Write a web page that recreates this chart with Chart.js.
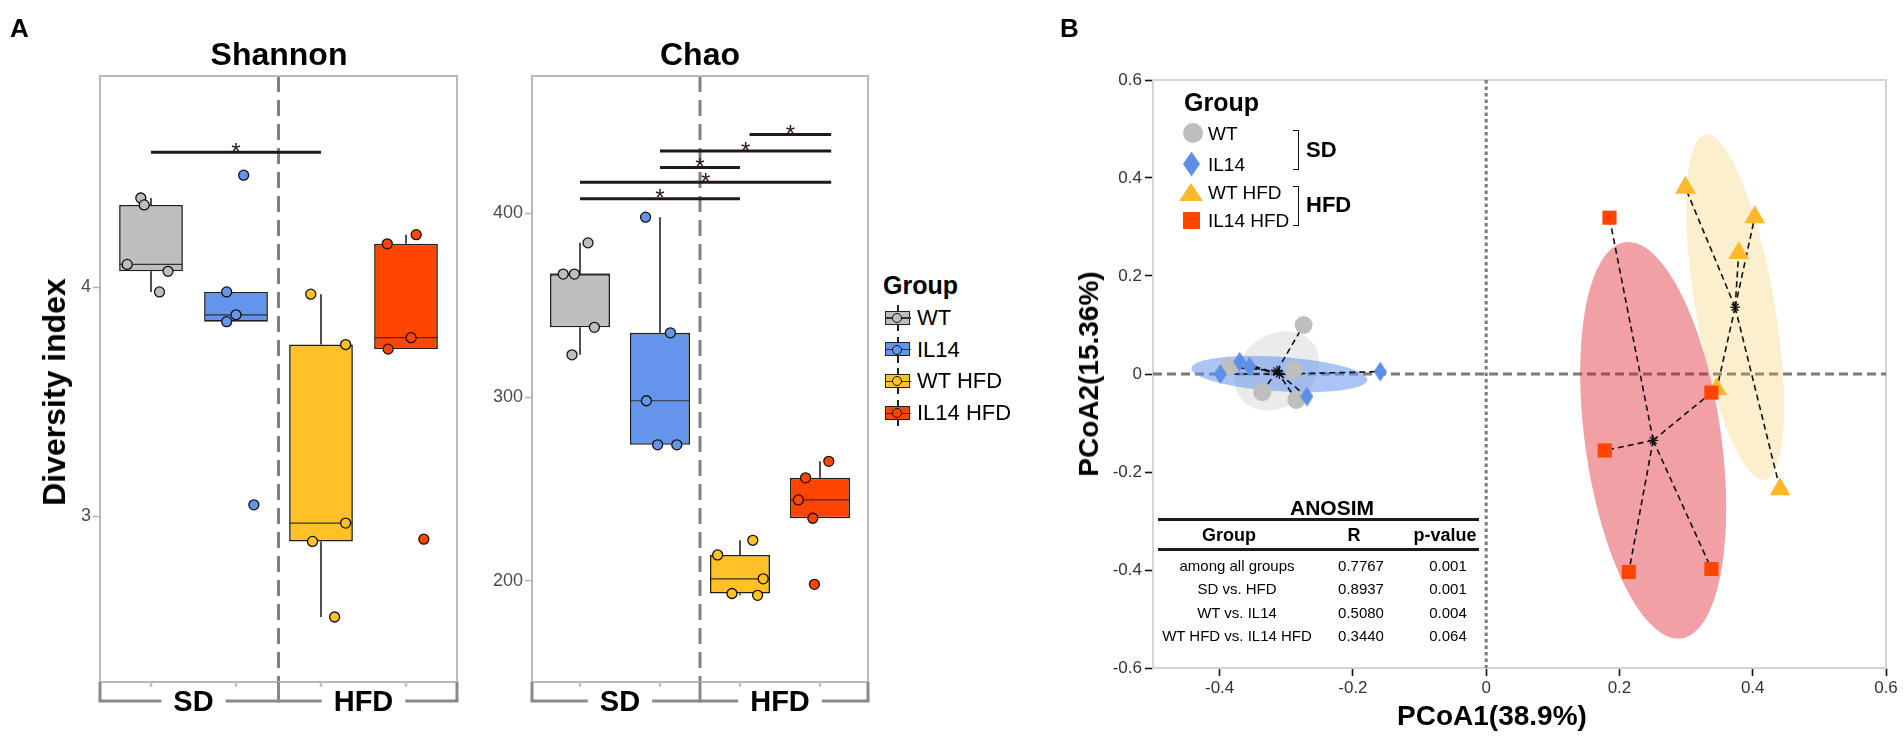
<!DOCTYPE html>
<html>
<head>
<meta charset="utf-8">
<title>Alpha diversity and PCoA</title>
<script src="https://cdn.jsdelivr.net/npm/chart.js@4.4.1/dist/chart.umd.min.js"></script>
<style>
  html, body { margin:0; padding:0; background:#fff; }
  body { position:relative; width:1904px; height:737px; overflow:hidden; font-family:"Liberation Sans", Arial, Helvetica, sans-serif; }
  canvas { position:absolute; top:0; }
  .lbl { position:absolute; white-space:nowrap; line-height:1; }
  .shape { position:absolute; }
</style>
</head>
<body>
<canvas id="shannon" width="470" height="737" style="left:0px;width:470px;height:737px"></canvas>
<canvas id="chao" width="410" height="737" style="left:470px;width:410px;height:737px"></canvas>
<canvas id="pcoa" width="904" height="737" style="left:1000px;width:904px;height:737px"></canvas>
<script>
// ================= DATA =================
const groups = ['WT', 'IL14', 'WT HFD', 'IL14 HFD'];
const dietGroups = ['SD', 'HFD'];
const groupColors = ['#BEBEBE', '#6495ED', '#FFC125', '#FF4500'];

// Shannon index per mouse
const shannonWT      = [4.39, 4.36, 4.10, 4.07, 3.98];
const shannonIL14    = [4.49, 3.98, 3.88, 3.85, 3.05];
const shannonWTHFD   = [3.97, 3.75, 2.97, 2.89, 2.56];
const shannonIL14HFD = [4.23, 4.19, 3.78, 3.73, 2.90];
const shannonJitter  = [[-0.12,-0.08,-0.28,0.20,0.10],[0.09,-0.11,0.00,-0.11,0.21],[-0.12,0.29,0.29,-0.10,0.16],[0.12,-0.22,0.06,-0.21,0.21]];
const shannonTicks = [3, 4];
const shannonSig = [[1, 3, 4.59]];

// Chao index per mouse
const chaoWT      = [384, 367, 367, 338, 323];
const chaoIL14    = [398, 335, 298, 274, 274];
const chaoWTHFD   = [222, 214, 201, 193, 192];
const chaoIL14HFD = [265, 256, 244, 234, 198];
const chaoJitter  = [[0.10,-0.21,-0.07,0.18,-0.10],[-0.18,0.13,-0.17,-0.03,0.21],[0.16,-0.28,0.29,-0.10,0.22],[0.11,-0.18,-0.27,-0.09,-0.07]];
const chaoTicks = [200, 300, 400];
const chaoSig = [[1, 3, 408], [1, 4.14, 417], [2, 3, 425], [2, 4.14, 434], [3.12, 4.14, 443]];

// PCoA coordinates
const pcoaWTx      = [-0.274, -0.289, -0.336, -0.285, -0.386];
const pcoaWTy      = [ 0.100,  0.008, -0.037, -0.053,  0.014];
const pcoaIL14x    = [-0.399, -0.370, -0.355, -0.269, -0.159];
const pcoaIL14y    = [ 0.000,  0.025,  0.015, -0.046,  0.005];
const pcoaWTHFDx   = [ 0.299,  0.403,  0.379,  0.346,  0.441];
const pcoaWTHFDy   = [ 0.380,  0.320,  0.247, -0.031, -0.235];
const pcoaIL14HFDx = [ 0.185,  0.338,  0.178,  0.214,  0.338];
const pcoaIL14HFDy = [ 0.319, -0.038, -0.156, -0.404, -0.398];
const pcoaTicksX = [-0.4, -0.2, 0, 0.2, 0.4, 0.6];
const pcoaTicksY = [-0.6, -0.4, -0.2, 0, 0.2, 0.4, 0.6];
const ellipseLevel = 0.6;

// ANOSIM table
const anosimGroups = ['among all groups', 'SD vs. HFD', 'WT vs. IL14', 'WT HFD vs. IL14 HFD'];
const anosimR = ['0.7767', '0.8937', '0.5080', '0.3440'];
const anosimP = ['0.001', '0.001', '0.004', '0.064'];

// ================= HELPERS =================
const FONT = '"Liberation Sans", Arial, Helvetica, sans-serif';
Chart.defaults.font.family = FONT;

function addText(txt, x, y, o = {}) {
  const d = document.createElement('div');
  d.className = 'lbl';
  d.textContent = txt;
  d.style.left = x + 'px';
  d.style.top = y + 'px';
  d.style.fontSize = (o.size || 16) + 'px';
  d.style.fontWeight = o.bold ? '700' : '400';
  d.style.color = o.color || '#000';
  const align = o.align || 'center';
  const tx = align === 'center' ? '-50%' : (align === 'right' ? '-100%' : '0');
  d.style.transform = `translate(${tx},-50%)` + (o.rotate ? ` rotate(${o.rotate}deg)` : '');
  document.body.appendChild(d);
  return d;
}
function addDiv(css) {
  const d = document.createElement('div');
  d.className = 'shape';
  d.style.cssText += css;
  document.body.appendChild(d);
  return d;
}
function line(ctx, x1, y1, x2, y2) { ctx.beginPath(); ctx.moveTo(x1, y1); ctx.lineTo(x2, y2); ctx.stroke(); }
function q7(s, p) { const h = (s.length - 1) * p, lo = Math.floor(h), hi = Math.min(lo + 1, s.length - 1); return s[lo] + (h - lo) * (s[hi] - s[lo]); }
function boxStats(vals) {
  const s = [...vals].sort((a, b) => a - b);
  const q1 = q7(s, 0.25), med = q7(s, 0.5), q3 = q7(s, 0.75), iqr = q3 - q1;
  const lo = s.find(v => v >= q1 - 1.5 * iqr);
  const hi = [...s].reverse().find(v => v <= q3 + 1.5 * iqr);
  return { q1, med, q3, lo, hi };
}

// ================= BOX PLOTS =================
function boxChart(id, values, jitter, yMin, yMax, yTicks, sig, yAxisWidth, pad) {
  const stats = values.map(boxStats);
  const datasets = [{
    type: 'bar', order: 10,
    data: stats.map((s, i) => ({ x: i + 1, y: [s.q1, s.q3] })),
    backgroundColor: groupColors, borderColor: '#1f1f1f', borderWidth: 1.6, borderSkipped: false,
    categoryPercentage: 1.0, barPercentage: 0.75, grouped: false
  }];
  values.forEach((vals, g) => {
    datasets.push({
      type: 'scatter', order: 1,
      data: vals.map((v, k) => ({ x: g + 1 + jitter[g][k], y: v })),
      pointRadius: 5, pointHoverRadius: 5,
      pointBackgroundColor: groupColors[g], pointBorderColor: '#111', pointBorderWidth: 1.3,
      showLine: false
    });
  });
  const plugin = {
    id: 'boxdeco_' + id,
    beforeDatasetsDraw(chart) {
      const { ctx, chartArea: a, scales: { x, y } } = chart;
      ctx.save();
      ctx.strokeStyle = '#808080'; ctx.lineWidth = 3; ctx.setLineDash([16, 8]);
      const xd = x.getPixelForValue(2.5);
      line(ctx, xd, a.top, xd, a.bottom);
      ctx.setLineDash([]);
      ctx.strokeStyle = '#222'; ctx.lineWidth = 1.6;
      stats.forEach((s, i) => {
        const px = x.getPixelForValue(i + 1);
        line(ctx, px, y.getPixelForValue(s.q3), px, y.getPixelForValue(s.hi));
        line(ctx, px, y.getPixelForValue(s.q1), px, y.getPixelForValue(s.lo));
      });
      ctx.restore();
    },
    afterDatasetDraw(chart, args) {
      if (args.meta.type !== 'bar') return;
      const { ctx, scales: { y } } = chart;
      ctx.save();
      ctx.strokeStyle = '#333'; ctx.lineWidth = 1.2;
      args.meta.data.forEach((bar, i) => {
        const py = y.getPixelForValue(stats[i].med);
        line(ctx, bar.x - bar.width / 2, py, bar.x + bar.width / 2, py);
      });
      ctx.restore();
    },
    afterDatasetsDraw(chart) {
      const { ctx, scales: { x, y } } = chart;
      ctx.save();
      ctx.strokeStyle = '#231815'; ctx.fillStyle = '#231815'; ctx.lineWidth = 3;
      ctx.font = '24px ' + FONT; ctx.textAlign = 'center'; ctx.textBaseline = 'alphabetic';
      sig.forEach(([g1, g2, v]) => {
        const py = y.getPixelForValue(v), x1 = x.getPixelForValue(g1), x2 = x.getPixelForValue(g2);
        line(ctx, x1, py, x2, py);
        ctx.fillText('*', (x1 + x2) / 2, py + 7.5);
      });
      ctx.restore();
    },
    afterDraw(chart) {
      const { ctx, chartArea: a, scales: { x } } = chart;
      ctx.save();
      // panel frame
      ctx.strokeStyle = '#b8b8b8'; ctx.lineWidth = 2;
      ctx.strokeRect(a.left, a.top, a.right - a.left, a.bottom - a.top);
      // category ticks
      ctx.strokeStyle = '#c4c4c4'; ctx.lineWidth = 2.5;
      for (let i = 1; i <= groups.length; i++) { const px = x.getPixelForValue(i); line(ctx, px, a.bottom, px, a.bottom + 5); }
      // diet bracket
      const by = a.bottom + 19, xd = x.getPixelForValue(2.5);
      ctx.strokeStyle = '#8a8a8a'; ctx.lineWidth = 3;
      [a.left, xd, a.right].forEach(px => line(ctx, px, a.bottom, px, by));
      ctx.font = 'bold 29px ' + FONT; ctx.fillStyle = '#000'; ctx.textAlign = 'center'; ctx.textBaseline = 'middle';
      dietGroups.forEach((lab, k) => {
        const x0 = k === 0 ? a.left : xd, x1 = k === 0 ? xd : a.right;
        const cx = x.getPixelForValue(1.5 + 2 * k);
        const w = ctx.measureText(lab).width;
        line(ctx, x0 - 1.5, by, cx - w / 2 - 12, by);
        line(ctx, cx + w / 2 + 12, by, x1 + 1.5, by);
        ctx.fillText(lab, cx, by + 2);
      });
      ctx.restore();
    }
  };
  return new Chart(document.getElementById(id), {
    type: 'bar',
    data: { datasets },
    options: {
      responsive: false, animation: false, events: [],
      layout: { padding: pad },
      plugins: { legend: { display: false }, tooltip: { enabled: false } },
      scales: {
        x: {
          type: 'linear', min: 0.4, max: 4.6, offset: false, display: true,
          afterBuildTicks: s => { s.ticks = groups.map((g, i) => ({ value: i + 1 })); },
          afterFit: s => { s.height = 0; },
          ticks: { display: false }, grid: { display: false }, border: { display: false }
        },
        y: {
          type: 'linear', min: yMin, max: yMax,
          afterBuildTicks: s => { s.ticks = yTicks.map(v => ({ value: v })); },
          afterFit: s => { s.width = yAxisWidth; },
          ticks: { font: { size: 18 }, color: '#4d4d4d', padding: 2, autoSkip: false },
          grid: { display: true, drawOnChartArea: false, drawTicks: true, tickLength: 7, tickColor: '#b0b0b0', tickWidth: 1.5, color: '#b0b0b0' },
          border: { display: false }
        }
      }
    },
    plugins: [plugin]
  });
}

boxChart('shannon', [shannonWT, shannonIL14, shannonWTHFD, shannonIL14HFD], shannonJitter,
  2.276, 4.923, shannonTicks, shannonSig, 40, { left: 60, right: 13, top: 76, bottom: 55 });
boxChart('chao', [chaoWT, chaoIL14, chaoWTHFD, chaoIL14HFD], chaoJitter,
  144.8, 474.9, chaoTicks, chaoSig, 50, { left: 12, right: 12, top: 76, bottom: 55 });

// ================= PCoA =================
const pcoaSets = [
  { x: pcoaWTx, y: pcoaWTy },
  { x: pcoaIL14x, y: pcoaIL14y },
  { x: pcoaWTHFDx, y: pcoaWTHFDy },
  { x: pcoaIL14HFDx, y: pcoaIL14HFDy }
];
const ellipseFills = ['rgba(190,190,190,0.30)', 'rgba(100,149,237,0.55)', 'rgba(240,190,60,0.25)', 'rgba(220,20,30,0.40)'];
const pcoaPointColors = ['#BEBEBE', '#5B8FE8', '#FDB92A', '#FF4500'];

function diamondImg(w, h, color) {
  const c = document.createElement('canvas'); c.width = w; c.height = h;
  const g = c.getContext('2d'); g.fillStyle = color;
  g.beginPath(); g.moveTo(w / 2, 0); g.lineTo(w, h / 2); g.lineTo(w / 2, h); g.lineTo(0, h / 2); g.closePath(); g.fill();
  return c;
}
const pcoaStyles = [
  { pointStyle: 'circle', radius: 9 },
  { pointStyle: diamondImg(13, 20, pcoaPointColors[1]), radius: 10 },
  { pointStyle: 'triangle', radius: 12 },
  { pointStyle: 'rect', radius: 10 }
];
function mean(a) { return a.reduce((s, v) => s + v, 0) / a.length; }

const pcoaPlugin = {
  id: 'pcoaDeco',
  beforeDatasetsDraw(chart) {
    const { ctx, chartArea: a, scales: { x, y } } = chart;
    ctx.save();
    ctx.strokeStyle = '#d4d4d4'; ctx.lineWidth = 2;
    ctx.strokeRect(a.left, a.top, a.right - a.left, a.bottom - a.top);
    // zero lines
    ctx.strokeStyle = '#7a7a7a'; ctx.lineWidth = 3;
    const y0 = y.getPixelForValue(0), x0 = x.getPixelForValue(0);
    ctx.setLineDash([9, 5]); line(ctx, a.left, y0, a.right, y0);
    ctx.setLineDash([3.5, 3]); line(ctx, x0, a.top, x0, a.bottom);
    ctx.setLineDash([]);
    // ellipses from covariance
    const c = Math.sqrt(-2 * Math.log(1 - ellipseLevel));
    pcoaSets.forEach((s, i) => {
      const mx = mean(s.x), my = mean(s.y), n = s.x.length;
      let sxx = 0, syy = 0, sxy = 0;
      for (let k = 0; k < n; k++) { const dx = s.x[k] - mx, dy = s.y[k] - my; sxx += dx * dx; syy += dy * dy; sxy += dx * dy; }
      sxx /= n - 1; syy /= n - 1; sxy /= n - 1;
      const l11 = Math.sqrt(sxx), l21 = sxy / l11, l22 = Math.sqrt(Math.max(syy - l21 * l21, 0));
      ctx.beginPath();
      for (let t = 0; t <= 120; t++) {
        const th = t / 120 * 2 * Math.PI, ct = Math.cos(th), st = Math.sin(th);
        const vx = mx + c * l11 * ct, vy = my + c * (l21 * ct + l22 * st);
        const px = x.getPixelForValue(vx), py = y.getPixelForValue(vy);
        if (t === 0) ctx.moveTo(px, py); else ctx.lineTo(px, py);
      }
      ctx.closePath();
      ctx.fillStyle = ellipseFills[i];
      ctx.fill();
    });
    // spiders
    ctx.strokeStyle = '#111'; ctx.lineWidth = 1.6;
    pcoaSets.forEach(s => {
      const cx = x.getPixelForValue(mean(s.x)), cy = y.getPixelForValue(mean(s.y));
      ctx.setLineDash([6, 4]);
      s.x.forEach((vx, k) => line(ctx, cx, cy, x.getPixelForValue(vx), y.getPixelForValue(s.y[k])));
      ctx.setLineDash([]);
      ctx.lineWidth = 1.2;
      const r = 5;
      line(ctx, cx - r, cy, cx + r, cy); line(ctx, cx, cy - r, cx, cy + r);
      line(ctx, cx - r * 0.7, cy - r * 0.7, cx + r * 0.7, cy + r * 0.7);
      line(ctx, cx - r * 0.7, cy + r * 0.7, cx + r * 0.7, cy - r * 0.7);
      ctx.lineWidth = 1.6;
    });
    ctx.restore();
  }
};
const fmt = v => { const r = Math.round(v * 10) / 10; return r === 0 ? '0' : String(r); };

new Chart(document.getElementById('pcoa'), {
  type: 'scatter',
  data: {
    datasets: pcoaSets.map((s, i) => ({
      label: groups[i], order: 3 - i,
      data: s.x.map((vx, k) => ({ x: vx, y: s.y[k] })),
      pointStyle: pcoaStyles[i].pointStyle, pointRadius: pcoaStyles[i].radius, pointHoverRadius: pcoaStyles[i].radius,
      pointBackgroundColor: pcoaPointColors[i], pointBorderWidth: 0, pointBorderColor: pcoaPointColors[i]
    }))
  },
  options: {
    responsive: false, animation: false, events: [],
    layout: { padding: { left: 93, right: 18, top: 80, bottom: 39 } },
    plugins: { legend: { display: false }, tooltip: { enabled: false } },
    scales: {
      x: {
        type: 'linear', min: -0.5, max: 0.6,
        afterBuildTicks: s => { s.ticks = pcoaTicksX.map(v => ({ value: v })); },
        afterFit: s => { s.height = 30; },
        ticks: { callback: fmt, font: { size: 17 }, color: '#333', padding: 2, autoSkip: false, maxRotation: 0 },
        grid: { display: true, drawOnChartArea: false, drawTicks: true, tickLength: 8, tickColor: '#111', tickWidth: 1.6, color: '#111' },
        border: { display: false }
      },
      y: {
        type: 'linear', min: -0.6, max: 0.6,
        afterBuildTicks: s => { s.ticks = pcoaTicksY.map(v => ({ value: v })); },
        afterFit: s => { s.width = 60; },
        ticks: { callback: fmt, font: { size: 17 }, color: '#333', padding: 3, autoSkip: false },
        grid: { display: true, drawOnChartArea: false, drawTicks: true, tickLength: 8, tickColor: '#111', tickWidth: 1.6, color: '#111' },
        border: { display: false }
      }
    }
  },
  plugins: [pcoaPlugin]
});

// ================= TEXT & LEGENDS =================
addText('A', 10, 28, { size: 26, bold: true, align: 'left' });
addText('B', 1060, 28, { size: 26, bold: true, align: 'left' });
addText('Shannon', 279, 54, { size: 32, bold: true });
addText('Chao', 700, 54, { size: 32, bold: true });
addText('Diversity index', 54, 392, { size: 32, bold: true, rotate: -90 });

// Panel A legend
addText('Group', 883, 285, { size: 25, bold: true, align: 'left' });
groups.forEach((g, i) => {
  const cy = 318 + i * 31.7;
  addDiv(`left:897.25px;top:${cy - 13}px;width:1.5px;height:26px;background:#222;`);
  addDiv(`left:885px;top:${cy - 7.5}px;width:23px;height:12px;border:1.5px solid #222;background:${groupColors[i]};`);
  addDiv(`left:885px;top:${cy - 0.6}px;width:26px;height:1.2px;background:#333;`);
  addDiv(`left:892px;top:${cy - 5}px;width:8px;height:8px;border:1.3px solid #111;border-radius:50%;background:${groupColors[i]};`);
  addText(g, 917, cy, { size: 22, align: 'left' });
});

// Panel B labels
addText('PCoA2(15.36%)', 1089, 374, { size: 28, bold: true, rotate: -90 });
addText('PCoA1(38.9%)', 1492, 716, { size: 28, bold: true });

// Panel B legend
addText('Group', 1184, 102, { size: 25, bold: true, align: 'left' });
const legY = [133, 164, 192, 220];
addDiv(`left:1183px;top:${legY[0] - 10}px;width:20px;height:20px;border-radius:50%;background:${pcoaPointColors[0]};`);
addDiv(`left:1183px;top:${legY[1] - 12.5}px;width:17px;height:25px;clip-path:polygon(50% 0,100% 50%,50% 100%,0 50%);background:${pcoaPointColors[1]};`);
addDiv(`left:1179px;top:${legY[2] - 9}px;width:24px;height:18px;clip-path:polygon(50% 0,100% 100%,0 100%);background:${pcoaPointColors[2]};`);
addDiv(`left:1183px;top:${legY[3] - 8.5}px;width:17px;height:17px;background:${pcoaPointColors[3]};`);
groups.forEach((g, i) => addText(g, 1208, legY[i], { size: 19, align: 'left' }));
addDiv(`left:1293px;top:130px;width:5px;height:38px;border:1.5px solid #111;border-left:none;`);
addDiv(`left:1293px;top:186px;width:5px;height:38px;border:1.5px solid #111;border-left:none;`);
addText(dietGroups[0], 1306, 150, { size: 22, bold: true, align: 'left' });
addText(dietGroups[1], 1306, 205, { size: 22, bold: true, align: 'left' });

// ANOSIM table
addText('ANOSIM', 1332, 507, { size: 21, bold: true });
addDiv(`left:1158px;top:517.5px;width:321px;height:3px;background:#231815;`);
addDiv(`left:1158px;top:547.5px;width:321px;height:3px;background:#231815;`);
addText('Group', 1229, 535, { size: 18, bold: true });
addText('R', 1354, 535, { size: 18, bold: true });
addText('p-value', 1445, 535, { size: 18, bold: true });
anosimGroups.forEach((g, i) => {
  const ry = 565 + i * 23.4;
  addText(g, 1237, ry, { size: 15 });
  addText(anosimR[i], 1361, ry, { size: 15 });
  addText(anosimP[i], 1448, ry, { size: 15 });
});
</script>
</body>
</html>
